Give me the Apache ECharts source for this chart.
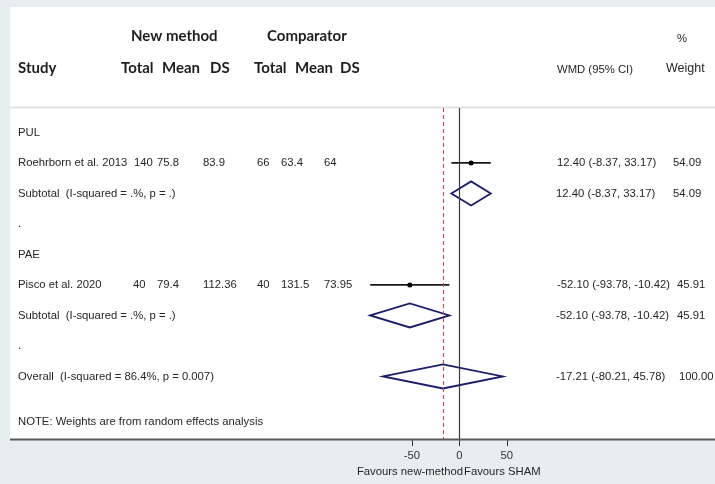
<!DOCTYPE html>
<html>
<head>
<meta charset="utf-8">
<script src="https://cdn.jsdelivr.net/npm/echarts@6/dist/echarts.min.js"></script>
<style>
  html, body { margin: 0; padding: 0; background: #e7eef0; }
  #chart { width: 715px; height: 484px; }
</style>
</head>
<body>
<div id="chart"></div>
<script>
// ---- Study-level data ----
const studyNames = ['Roehrborn et al. 2013', 'Pisco et al. 2020'];
const studyRows = [1, 5];
const newTotal = ['140', '40'];
const newMean = ['75.8', '79.4'];
const newSD = ['83.9', '112.36'];
const compTotal = ['66', '40'];
const compMean = ['63.4', '131.5'];
const compSD = ['64', '73.95'];
const studyWMD = [12.40, -52.10];
const studyLow = [-8.37, -93.78];
const studyHigh = [33.17, -10.42];
const studyWeight = ['54.09', '45.91'];

// ---- Pooled estimates: two subgroups, then overall ----
const pooledLabels = [
  'Subtotal  (I-squared = .%, p = .)',
  'Subtotal  (I-squared = .%, p = .)',
  'Overall  (I-squared = 86.4%, p = 0.007)'
];
const pooledRows = [2, 6, 8];
const pooledWMD = [12.40, -52.10, -17.21];
const pooledLow = [-8.37, -93.78, -80.21];
const pooledHigh = [33.17, -10.42, 45.78];
const pooledWeight = ['54.09', '45.91', '100.00'];

// ---- Group headings and spacer rows ----
const groupLabels = ['PUL', '.', 'PAE', '.'];
const groupRows = [0, 3, 4, 7];

const noteText = 'NOTE: Weights are from random effects analysis';
const noteRow = 9.5;

const xTicks = [-50, 0, 50];
const xLeftLabel = 'Favours new-method';
const xRightLabel = 'Favours SHAM';

// ---- Layout / styling constants ----
const BODY_FONT = '11.3px "Liberation Sans", Arial, sans-serif';
const HEAD_FONT = 'bold 15px Lato, "Open Sans", sans-serif';
const TEXT_COLOR = '#262626';
const HEAD_COLOR = '#1e1e1e';
const DIAMOND_COLOR = '#1c1c6e';

const chart = echarts.init(document.getElementById('chart'), null, { renderer: 'canvas' });

function fmt(v) { return v.toFixed(2); }

chart.setOption({
  animation: false,
  backgroundColor: '#e7eef0',
  grid: { left: 364.3, right: 160.7, top: 108, bottom: 45 },
  xAxis: {
    type: 'value',
    min: -100,
    max: 100,
    splitLine: { show: false },
    axisLine: { show: false, onZero: false },
    axisTick: {
      show: true,
      customValues: xTicks,
      length: 7,
      lineStyle: { color: '#333', width: 1 }
    },
    axisLabel: {
      customValues: xTicks,
      margin: 11,
      color: '#333',
      fontSize: 11.3,
      fontFamily: '"Liberation Sans", Arial, sans-serif'
    }
  },
  yAxis: {
    type: 'value',
    min: -0.8,
    max: 10.05,
    inverse: true,
    show: false
  },
  series: [
    {
      // individual study estimates with confidence intervals
      type: 'custom',
      data: studyWMD.map((v, i) => [v, studyLow[i], studyHigh[i], studyRows[i]]),
      encode: { x: [0, 1, 2], y: 3 },
      renderItem(params, api) {
        const r = api.value(3);
        const c = api.coord([api.value(0), r]);
        const a = api.coord([api.value(1), r]);
        const b = api.coord([api.value(2), r]);
        return {
          type: 'group',
          children: [
            { type: 'line', shape: { x1: a[0], y1: a[1], x2: b[0], y2: b[1] },
              style: { stroke: '#1a1a1a', lineWidth: 1.7 } },
            { type: 'circle', shape: { cx: c[0], cy: c[1], r: 2.5 },
              style: { fill: '#000' } }
          ]
        };
      },
      markLine: {
        silent: true,
        symbol: 'none',
        label: { show: false },
        data: [
          { xAxis: 0, lineStyle: { color: '#3a3a3a', width: 1.2, type: 'solid' } },
          { xAxis: pooledWMD[2], lineStyle: { color: '#b9505e', width: 1.1, type: [4, 3] } }
        ]
      }
    },
    {
      // pooled diamonds
      type: 'custom',
      data: pooledWMD.map((v, i) => [v, pooledLow[i], pooledHigh[i], pooledRows[i]]),
      encode: { x: [0, 1, 2], y: 3 },
      renderItem(params, api) {
        const r = api.value(3);
        const c = api.coord([api.value(0), r]);
        const a = api.coord([api.value(1), r]);
        const b = api.coord([api.value(2), r]);
        const h = 12;
        return {
          type: 'polygon',
          shape: { points: [[a[0], a[1]], [c[0], c[1] - h], [b[0], b[1]], [c[0], c[1] + h]] },
          style: { fill: 'none', stroke: DIAMOND_COLOR, lineWidth: 1.8 }
        };
      }
    }
  ]
});

// ---- Table text placed on the same row scale as the plot ----
function rowY(r) { return chart.convertToPixel({ yAxisIndex: 0 }, r); }

function txt(text, x, y, opts) {
  opts = opts || {};
  return {
    type: 'text',
    x: x, y: y,
    silent: true,
    z: 10,
    style: {
      text: text,
      font: opts.font || BODY_FONT,
      fill: opts.color || TEXT_COLOR,
      align: opts.align || 'left',
      verticalAlign: 'middle'
    }
  };
}

const g = [];
// panel
g.push({ type: 'rect', shape: { x: 10, y: 7, width: 705, height: 432 }, style: { fill: '#ffffff' }, z: -10, silent: true });
g.push({ type: 'line', shape: { x1: 10, y1: 107.5, x2: 715, y2: 107.5 }, style: { stroke: '#dcdcdc', lineWidth: 1.6 }, z: -5, silent: true });
g.push({ type: 'line', shape: { x1: 10, y1: 439.5, x2: 715, y2: 439.5 }, style: { stroke: '#5a5a5a', lineWidth: 1.8 }, z: 5, silent: true });

// header
g.push(txt('New method', 131, 36, { font: HEAD_FONT, color: HEAD_COLOR }));
g.push(txt('Comparator', 267, 36, { font: HEAD_FONT, color: HEAD_COLOR }));
g.push(txt('Study', 18, 68, { font: HEAD_FONT, color: HEAD_COLOR }));
[['Total', 121], ['Mean', 162], ['DS', 210], ['Total', 254], ['Mean', 295], ['DS', 340]].forEach(([t, x]) => {
  g.push(txt(t, x, 68, { font: HEAD_FONT, color: HEAD_COLOR }));
});
g.push(txt('%', 677, 39));
g.push(txt('WMD (95% CI)', 557, 70));
g.push(txt('Weight', 666, 69, { font: '12.5px "Liberation Sans", Arial, sans-serif' }));

// group headings / spacers
groupLabels.forEach((t, i) => g.push(txt(t, 18, rowY(groupRows[i]))));

// study rows
studyNames.forEach((name, i) => {
  const y = rowY(studyRows[i]);
  g.push(txt(name, 18, y));
  g.push(txt(newTotal[i], i === 0 ? 134 : 133, y));
  g.push(txt(newMean[i], 157, y));
  g.push(txt(newSD[i], 203, y));
  g.push(txt(compTotal[i], 257, y));
  g.push(txt(compMean[i], 281, y));
  g.push(txt(compSD[i], 324, y));
  g.push(txt(fmt(studyWMD[i]) + ' (' + fmt(studyLow[i]) + ', ' + fmt(studyHigh[i]) + ')', 557, y));
  g.push(txt(studyWeight[i], i === 0 ? 673 : 677, y));
});

// pooled rows
pooledLabels.forEach((name, i) => {
  const y = rowY(pooledRows[i]);
  g.push(txt(name, 18, y));
  g.push(txt(fmt(pooledWMD[i]) + ' (' + fmt(pooledLow[i]) + ', ' + fmt(pooledHigh[i]) + ')', 556, y));
  g.push(txt(pooledWeight[i], i === 0 ? 673 : (i === 1 ? 677 : 679), y));
});

g.push(txt(noteText, 18, rowY(noteRow)));

// axis captions
g.push(txt(xLeftLabel, 463, 472, { align: 'right' }));
g.push(txt(xRightLabel, 464, 472));

chart.setOption({ graphic: g });
</script>
</body>
</html>
